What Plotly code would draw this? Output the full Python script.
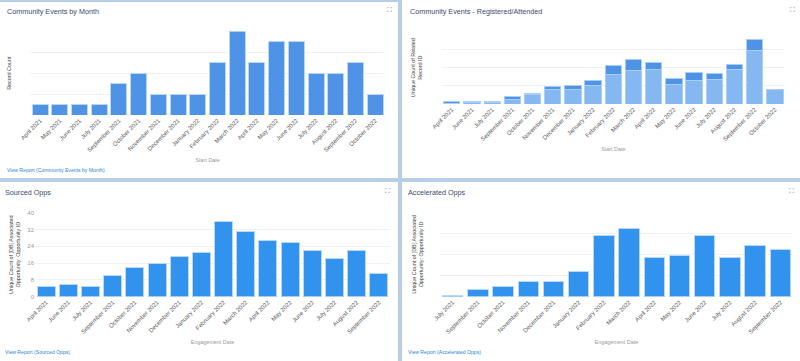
import plotly.graph_objects as go

W, H = 800, 361
FONT = "Liberation Sans"

months_1 = ["April 2021","May 2021","June 2021","July 2021","September 2021","October 2021","November 2021",
            "December 2021","January 2022","February 2022","March 2022","April 2022","May 2022","June 2022",
            "July 2022","August 2022","September 2022","October 2022"]
events_count = [1,1,1,1,3,4,2,2,2,5,8,5,7,7,4,4,5,2]

months_2 = ["April 2021","June 2021","July 2021","September 2021","October 2021","November 2021","December 2021",
            "January 2022","February 2022","March 2022","April 2022","May 2022","June 2022","July 2022",
            "August 2022","September 2022","October 2022"]
attended = [1,2,2,5.5,10,15.5,16.5,20,32,37,38.5,21,25.7,27.5,38,58.7,16]
registered_extra = [2,1,1,2.5,2,3.5,3.5,6,10,11.5,7.5,7,9.3,6.5,5,12.3,0]

months_3 = ["April 2021","June 2021","July 2021","September 2021","October 2021","November 2021","December 2021",
            "January 2022","February 2022","March 2022","April 2022","May 2022","June 2022","July 2022",
            "August 2022","September 2022"]
sourced = [5,6,5,10,14,16,19,21,36,31,27,26,22,18,22,11]

months_4 = ["July 2021","September 2021","October 2021","November 2021","December 2021","January 2022",
            "February 2022","March 2022","April 2022","May 2022","June 2022","July 2022","August 2022","September 2022"]
accelerated = [1,7,10,14,14,24,58,65,37,39,58,37,49,45]

BLUE = "#4f93e6"
LIGHT = "#85b8f0"
OPP = "#3193ee"
EDGE = "#b9d8f8"

fig = go.Figure()

def dom(a, b, size):
    return [a / size, b / size]

def ydom(top, bottom):
    return [1 - bottom / H, 1 - top / H]

panels = [
    dict(n="", x=(30.3, 385), y=(31.3, 115), ymax=8, dt=2, title="Start Date", ytitle="Record Count",
         cats=months_1, showy=False, ystand=17),
    dict(n="2", x=(441.7, 785), y=(31.3, 104), ymax=80, dt=20, title="Start Date",
         ytitle="Unique Count of Related<br>Record ID", cats=months_2, showy=False, ystand=17),
    dict(n="3", x=(35, 390), y=(212.7, 296.7), ymax=40, dt=8, title="Engagement Date",
         ytitle="Unique Count of [DB] Associated<br>Opportunity: Opportunity ID", cats=months_3, showy=True, ystand=6),
    dict(n="4", x=(440, 793), y=(212.3, 296.7), ymax=80, dt=20, title="Engagement Date",
         ytitle="Unique Count of [DB] Associated<br>Opportunity: Opportunity ID", cats=months_4, showy=False, ystand=15),
]

def bar(cats, vals, color, n, line=EDGE):
    fig.add_trace(go.Bar(x=cats, y=vals, marker=dict(color=color, line=dict(color=line, width=1)),
                         xaxis="x" + n, yaxis="y" + n, showlegend=False, hoverinfo="skip"))

bar(months_1, events_count, BLUE, "")
bar(months_2, attended, LIGHT, "2", line="#a9cff6")
bar(months_2, registered_extra, BLUE, "2", line="#a9cff6")
bar(months_3, sourced, OPP, "3")
bar(months_4, accelerated, OPP, "4")

layout = dict(
    width=W, height=H, margin=dict(l=0, r=0, t=0, b=0), autosize=False,
    paper_bgcolor="#b8cde6", plot_bgcolor="rgba(0,0,0,0)",
    barmode="stack", bargap=0.19, font=dict(family=FONT, size=7, color="#555"),
)

for p in panels:
    n = p["n"]
    layout["xaxis" + n] = dict(
        domain=dom(p["x"][0], p["x"][1], W), anchor="y" + n, type="category",
        categoryorder="array", categoryarray=p["cats"], range=[-0.5, len(p["cats"]) - 0.5],
        tickangle=-45, tickfont=dict(size=6, color="#5a5a5a", family=FONT), ticks="", showgrid=False,
        showline=False, zeroline=False, automargin=False, tickmode="linear", dtick=1, ticklen=0,
        title=dict(text=p["title"], font=dict(size=5.4, color="#9a9a9a", family=FONT), standoff=6),
    )
    layout["yaxis" + n] = dict(
        domain=ydom(p["y"][0], p["y"][1]), anchor="x" + n, range=[0, p["ymax"]], dtick=p["dt"],
        tick0=0, gridcolor="#eef2f7", gridwidth=1, zeroline=False, showline=False, automargin=False,
        showticklabels=p["showy"], tickfont=dict(size=6, color="#9a9a9a", family=FONT), ticks="",
        title=dict(text=p["ytitle"], font=dict(size=5.4, color="#444", family=FONT), standoff=p["ystand"]),
    )

# white panel cards
cards = [(0, 2, 398, 178), (402, 0, 800, 178), (0, 182, 398, 361), (402, 182, 800, 361)]
layout["shapes"] = [
    dict(type="rect", xref="paper", yref="paper", layer="below", line=dict(width=0), fillcolor="white",
         x0=a / W, x1=c / W, y0=1 - d / H, y1=1 - b / H)
    for a, b, c, d in cards
]

def note(x, y, text, size, color, anchor="left"):
    return dict(xref="paper", yref="paper", x=x / W, y=1 - y / H, text=text, showarrow=False, xanchor=anchor,
                yanchor="middle", font=dict(size=size, color=color, family=FONT))

NAVY = "#3a4a70"
LINK = "#2f7fd8"
layout["annotations"] = [
    note(5, 11.5, "Community Events by Month", 7.2, NAVY),
    note(408, 11.5, "Community Events - Registered/Attended", 7.2, NAVY),
    note(3, 192.5, "Sourced Opps", 7.2, NAVY),
    note(406, 192.5, "Accelerated Opps", 7.2, NAVY),
    note(5, 170, "View Report (Community Events by Month)", 5.1, LINK),
    note(3, 351.5, "View Report (Sourced Opps)", 5.1, LINK),
    note(406, 351.5, "View Report (Accelerated Opps)", 5.1, LINK),
    note(389.5, 9.5, "⛶", 7, "#777", "center"),
    note(792.5, 9.5, "⛶", 7, "#777", "center"),
    note(387.5, 190.5, "⛶", 7, "#777", "center"),
    note(791, 190.5, "⛶", 7, "#777", "center"),
]

fig.update_layout(**layout)
fig.write_html("out.html", config=dict(displayModeBar=False),
               post_script="document.body.style.margin='0';document.documentElement.style.overflow='hidden';")
